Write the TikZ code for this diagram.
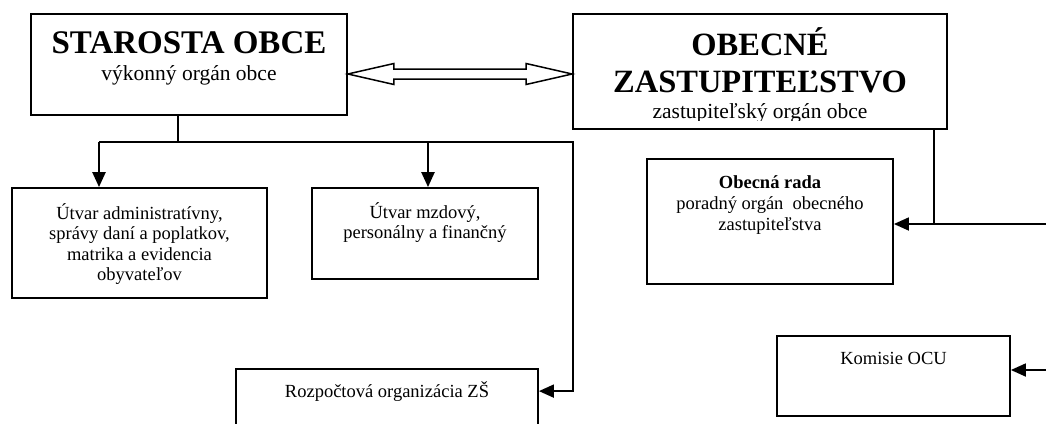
\documentclass[tikz,border=0pt]{standalone}
\usepackage{fontspec}
\setmainfont{Liberation Serif}
\usetikzlibrary{arrows.meta, calc, positioning}
\newcommand{\titlefont}{\fontsize{32.5}{37}\bfseries\selectfont}
\newcommand{\subfont}{\fontsize{21.5}{26.5}\selectfont}
\newcommand{\boxfont}{\fontsize{18.5}{20.5}\selectfont}

\begin{document}
\begin{tikzpicture}[x=1pt, y=-1pt, >={Triangle[length=15pt, width=13pt]},
	line join=miter,
	orgbox/.style={draw, line width=1.8pt, inner sep=0pt},
	orgtext/.style={inner sep=0pt, align=center, font=\boxfont},
	bus/.style={line width=1.8pt},
	stem/.style={line width=1.2pt},
	feed/.style={line width=2.4pt, ->},
	link/.style={draw, line width=1.5pt, fill=white}]
		
		\useasboundingbox (0,0) rectangle (1046,423);
		
		%========================
		% Top: starosta <-> zastupitelstvo
		%========================
		\node[orgbox, minimum width=316pt, minimum height=101pt] (starosta) at (189,64.5) {};
		\node[orgtext, font=\subfont, below=18.5pt of starosta.north] (starosta-txt)
		{{\fontsize{33}{37}\bfseries\selectfont STAROSTA OBCE}\\výkonný orgán obce};
		
		\node[orgbox, minimum width=374pt, minimum height=115pt] (obecne) at (760,71.5) {};
		% last line is cut by the box in the original
		\begin{scope}
			\clip (obecne.north west) rectangle (obecne.east |- 0,120);
			\node[orgtext, font=\subfont, below=14pt of obecne.north] (obecne-txt)
			{{\titlefont OBECNÉ}\\[10.5pt]{\titlefont ZASTUPITEĽSTVO}\\zastupiteľský orgán obce};
		\end{scope}
		
		% hollow double arrow
		\coordinate (lk-l) at (starosta.east |- 0,74);
		\coordinate (lk-r) at (obecne.west |- 0,74);
		\draw[link] (lk-l) -- ++(46,-10.5) -- ++(0,5.5) -- ($(lk-r)+(-46,-5)$)
		-- ++(0,-5.5) -- (lk-r) -- ++(-46,10.5) -- ++(0,-5.5)
		-- ($(lk-l)+(46,5)$) -- ++(0,5.5) -- cycle;
		
		%========================
		% Left: utvary
		%========================
		\node[orgbox, minimum width=255pt, minimum height=110pt] (utvar1) at (139.5,243) {};
		\node[orgtext, below=16pt of utvar1.north] (utvar1-txt)
		{Útvar administratívny,\\správy daní a poplatkov,\\matrika a evidencia\\obyvateľov};
		
		\node[orgbox, minimum width=226pt, minimum height=91pt] (mzdy) at (425,233.5) {};
		\node[orgtext, below=15pt of mzdy.north] (mzdy-txt)
		{Útvar mzdový,\\personálny a finančný};
		
		\node[orgbox, minimum width=302pt, minimum height=90pt] (rozpocet) at (387,414) {};
		\node[orgtext, below=13pt of rozpocet.north] (rozpocet-txt)
		{Rozpočtová organizácia ZŠ};
		
		% connectors from starosta
		\coordinate (st-j) at (178,142);
		\coordinate (bus-l) at (99,142);
		\coordinate (bus-m) at (428,142);
		\coordinate (bus-r) at (573,142);
		\coordinate (rozp-in) at ($(rozpocet.north east)+(0,23)$);
		\draw[stem] (st-j |- starosta.south) -- ($(st-j)+(0,1)$);
		\draw[bus, ->] (bus-l) -- (bus-r) |- (rozp-in);
		\draw[feed] (bus-l) -- (bus-l |- utvar1.north);
		\draw[feed] (bus-m) -- (bus-m |- mzdy.north);
		
		%========================
		% Right: rada, komisie
		%========================
		\node[orgbox, minimum width=246pt, minimum height=125pt] (rada) at (770,221.5) {};
		\node[orgtext, font=\fontsize{18.5}{21}\selectfont, below=17pt of rada.north] (rada-txt)
		{\textbf{Obecná rada}\\poradný orgán~ obecného\\zastupiteľstva};
		
		\node[orgbox, minimum width=233pt, minimum height=80pt] (komisie) at (893.5,376) {};
		\node[orgtext, below=17pt of komisie.north] (komisie-txt) {Komisie OCU};
		
		% connectors on the right
		\coordinate (rada-j) at (934,224);
		\coordinate (rada-in) at (1046,224);
		\coordinate (kom-in) at (1046,370);
		\draw[stem] (rada-j |- obecne.south) -- (rada-j);
		\draw[bus, ->] (rada-in) -- (rada-in -| rada.east);
		\draw[bus, ->] (kom-in) -- (kom-in -| komisie.east);
		
	\end{tikzpicture}
\end{document}
